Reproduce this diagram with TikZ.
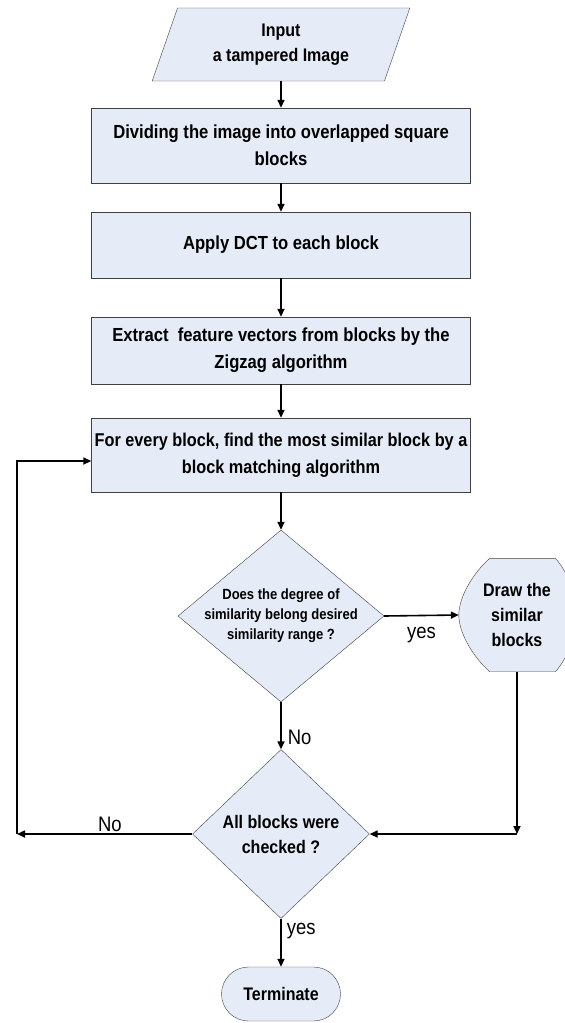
\documentclass[tikz,border=0pt]{standalone}
\usepackage{fontspec}
\setmainfont{Liberation Sans}[FakeStretch=0.88]
\usepackage{xcolor}
\usepackage{tikz}
\usetikzlibrary{arrows.meta,positioning,calc,shapes.geometric,backgrounds}

\definecolor{boxblue}{HTML}{E6ECF7}

\begin{document}
\begin{tikzpicture}[
                x=1pt, y=-1pt,
                font=\fontsize{18.9}{27}\selectfont,
                block/.style={draw=black!75, fill=boxblue, align=center, inner sep=0pt, minimum width=379pt, font=\fontsize{18.9}{27}\selectfont\bfseries},
                io/.style={draw=black!75, fill=boxblue, trapezium, trapezium left angle=70, trapezium right angle=110, trapezium stretches=true, align=center, font=\fontsize{18.2}{25}\selectfont\bfseries},
                decision/.style={draw=black!75, fill=boxblue, diamond, inner sep=0pt},
                dtext/.style={align=center, font=\bfseries},
                term/.style={draw=black!75, fill=boxblue, rounded corners=27pt, minimum width=119pt, minimum height=54pt, font=\fontsize{18.2}{25}\selectfont\bfseries},
                flow/.style={-{Triangle[length=8pt,width=7pt]}, line width=1.6pt},
                lbl/.style={font=\fontsize{21}{22}\selectfont, inner sep=2pt}
            ]
            \useasboundingbox (0,0) rectangle (565,1023);
            \node[io, minimum width=258pt, minimum height=73pt] (input) at (281,44.5) {Input\\a tampered Image};
            \node[block, minimum height=75pt] (divide) at (281,145.5) {Dividing the image into overlapped square\\blocks};
            \node[block, minimum height=66pt] (dct) at (281,245) {Apply DCT to each block};
            \node[block, minimum height=67pt] (zigzag) at (281,350.5) {Extract\ \ feature vectors from blocks by the\\Zigzag algorithm};
            \node[block, minimum height=74pt, font=\fontsize{18.5}{27}\selectfont\bfseries] (match) at (281,455) {For every block, find the most similar block by a\\block matching algorithm};
            \node[decision, minimum width=206pt, minimum height=172pt,
                label={[dtext, font=\fontsize{14.8}{20}\selectfont\bfseries]center:{Does the degree of\\similarity belong desired\\similarity range ?}}] (similar) at (281,616) {};
            \node[decision, minimum width=177pt, minimum height=169pt,
                label={[dtext, font=\fontsize{18.2}{25}\selectfont\bfseries]center:{All blocks were\\checked ?}}] (check) at (281,834) {};
            \node[align=center, inner sep=0pt, minimum width=116pt, minimum height=113pt, font=\fontsize{18.2}{25}\selectfont\bfseries] (show) at (517,615) {Draw the\\similar\\blocks};
            \begin{scope}[on background layer]
                \draw[draw=black!75, fill=boxblue] (show.west) .. controls +(0,-20) and +(-14,12) .. ([xshift=31pt]show.north west)
                -- ([xshift=-20pt]show.north east) .. controls +(10,10) and +(0,-25) .. (show.east)
                .. controls +(0,25) and +(10,-10) .. ([xshift=-20pt]show.south east)
                -- ([xshift=31pt]show.south west) .. controls +(-14,-12) and +(0,20) .. cycle;
            \end{scope}
            \node[term] (stop) at (281,994) {Terminate};
            \coordinate (back) at (17,834);
            \coordinate (turn) at (show.south |- check.east);

            \draw[flow] (input.south) -- (divide.north);
            \draw[flow] (divide.south) -- (dct.north);
            \draw[flow] (dct.south) -- (zigzag.north);
            \draw[flow] (zigzag.south) -- (match.north);
            \draw[flow] (match.south) -- (similar.north);
            \draw[flow] (similar.east) -- node[lbl, below, yshift=-9pt] {yes} (show.west);
            \draw[flow] (similar.south) -- node[lbl, right, pos=0.75, xshift=4pt] {No} (check.north);
            \draw[flow] (show.south) -- (turn);
            \draw[flow] (turn) -- (check.east);
            \draw[flow] (check.west) -- node[lbl, above, pos=0.47] {No} (back);
            \draw[flow] (back) |- ([yshift=-6pt]match.west);
            \draw[flow] (check.south) -- node[lbl, right, pos=0.25, xshift=3pt] {yes} (stop.north);
        \end{tikzpicture}
\end{document}
